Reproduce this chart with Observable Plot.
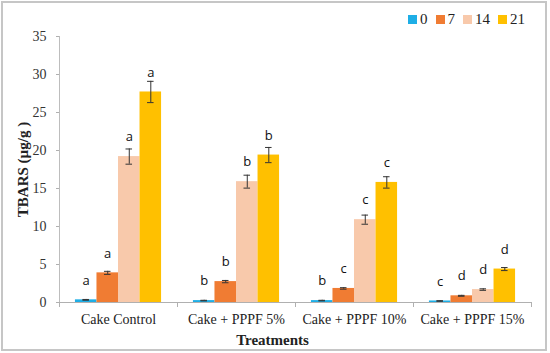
<!DOCTYPE html>
<html>
<head>
<meta charset="utf-8">
<script src="https://cdn.jsdelivr.net/npm/d3@7"></script>
<script src="https://cdn.jsdelivr.net/npm/@observablehq/plot@0.6"></script>
<style>
  html, body { margin: 0; padding: 0; background: #fff; }
  #wrap { position: relative; width: 550px; height: 353px; overflow: hidden; }
  #border { position: absolute; left: 1px; top: 1px; width: 546px; height: 350px; box-sizing: border-box; border: 2px solid #c6c6c6; pointer-events: none; }
  #legend { position: absolute; left: 408px; top: 11px; display: flex; align-items: center; font-family: "Liberation Serif", serif; font-size: 15px; color: #222; }
  #legend .item { display: flex; align-items: center; margin-right: 8px; }
  #legend .sw { width: 9px; height: 9px; margin-right: 3px; }
  svg text { font-family: "Liberation Serif", serif; }
  svg g[aria-label="frame"] line { stroke: #bdbdbd !important; }
  svg g[aria-label="y-axis label"] text { font-weight: bold; font-size: 15px; fill: #222; }
  svg g[aria-label="fx-axis label"] text { font-weight: bold; font-size: 15px; fill: #222; }
  svg g[aria-label="y-axis tick label"] text { fill: #333; font-size: 14px; }
  svg g[aria-label="fx-axis tick label"] text { fill: #222; }
  svg g[aria-label="text"] text { font-family: "Open Sans", sans-serif; }
</style>
</head>
<body>
<div id="wrap"><div id="border"></div><div id="legend"></div></div>
<script>
const groups = ["Cake Control", "Cake + PPPF 5%", "Cake + PPPF 10%", "Cake + PPPF 15%"];
const series = ["0", "7", "14", "21"];
const colors = ["#1EAEE6", "#F07C33", "#F8C9AB", "#FFC000"];
const day0 = [0.35, 0.25, 0.25, 0.2];
const day7 = [3.9, 2.75, 1.85, 0.88];
const day14 = [19.2, 15.9, 10.9, 1.7];
const day21 = [27.7, 19.4, 15.8, 4.4];
const err0 = [0.05, 0.04, 0.04, 0.04];
const err7 = [0.2, 0.15, 0.1, 0.06];
const err14 = [1.0, 0.85, 0.6, 0.1];
const err21 = [1.4, 1.0, 0.75, 0.2];
const letters0 = ["a", "b", "b", "c"];
const letters7 = ["a", "b", "c", "d"];
const letters14 = ["a", "b", "c", "d"];
const letters21 = ["a", "b", "c", "d"];
const yTicks = [0, 5, 10, 15, 20, 25, 30, 35];

const values = [day0, day7, day14, day21];
const errs = [err0, err7, err14, err21];
const letters = [letters0, letters7, letters14, letters21];
const data = [];
groups.forEach((g, gi) => series.forEach((s, si) => {
  data.push({group: g, series: s, value: values[si][gi], err: errs[si][gi], letter: letters[si][gi]});
}));

const W = 550, H = 353, ML = 59, MR = 19, MT = 36, MB = 51;
const fw = (W - ML - MR) / groups.length;

const plot = Plot.plot({
  width: W, height: H,
  marginLeft: ML, marginRight: MR, marginTop: MT, marginBottom: MB,
  style: {fontFamily: "Liberation Serif, serif", fontSize: "13px", color: "#b0b0b0", background: "transparent"},
  fx: {domain: groups, padding: 0, label: null, axis: null},
  x: {domain: series, paddingInner: 0, paddingOuter: 0.74, axis: null, round: false},
  y: {domain: [0, 35], ticks: yTicks, tickSize: 3, tickPadding: 10, line: true,
      label: "TBARS (µg/g )", labelAnchor: "center", labelOffset: 42, labelArrow: "none"},
  color: {domain: series, range: colors},
  marks: [
    Plot.axisFx({anchor: "bottom", tickSize: 0, tickPadding: 12, fill: "#222", fontSize: 14, fontFamily: "Liberation Serif",
      label: "Treatments", labelAnchor: "center", labelOffset: 42, labelArrow: "none"}),
    Plot.axisFx({anchor: "bottom", tickSize: 5, dx: -fw / 2, tickFormat: () => "", label: null, stroke: "#b0b0b0"}),
    Plot.axisFx({anchor: "bottom", tickSize: 5, dx: fw / 2, tickFormat: () => "", label: null, stroke: "#b0b0b0"}),
    Plot.barY(data, {fx: "group", x: "series", y: "value", fill: "series", inset: 0}),
    Plot.ruleY([0], {stroke: "#b0b0b0"}),
    Plot.ruleX(data, {fx: "group", x: "series", y1: d => d.value - d.err, y2: d => d.value + d.err, stroke: "#333", strokeWidth: 1}),
    Plot.tickY(data, {fx: "group", x: "series", y: d => d.value - d.err, stroke: "#333", strokeWidth: 1, insetLeft: 7.5, insetRight: 7.5}),
    Plot.tickY(data, {fx: "group", x: "series", y: d => d.value + d.err, stroke: "#333", strokeWidth: 1, insetLeft: 7.5, insetRight: 7.5}),
    Plot.text(data, {fx: "group", x: "series", y: "value", text: "letter", dy: -19.5, fontFamily: "Open Sans, sans-serif", fontSize: 13, fill: "#111"})
  ]
});
document.getElementById("wrap").insertBefore(plot, document.getElementById("border"));
plot.style.position = "absolute"; plot.style.left = "0"; plot.style.top = "0";
const fxLabel = plot.querySelector('g[aria-label="fx-axis label"]');
if (fxLabel) fxLabel.setAttribute("transform", (fxLabel.getAttribute("transform") || "") + " translate(-23,0)");

const legend = document.getElementById("legend");
series.forEach((s, i) => {
  const item = document.createElement("div"); item.className = "item";
  const sw = document.createElement("div"); sw.className = "sw"; sw.style.background = colors[i];
  const t = document.createElement("span"); t.textContent = s;
  item.appendChild(sw); item.appendChild(t); legend.appendChild(item);
});
</script>
</body>
</html>
